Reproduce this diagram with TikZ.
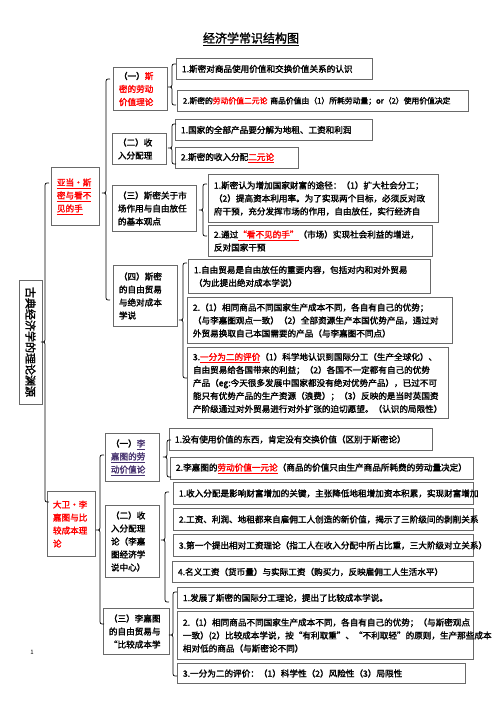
\documentclass[tikz,border=0pt]{standalone}
\usepackage{fontspec}
\setmainfont{Noto Sans CJK SC}[AutoFakeBold=1.8]
\definecolor{boxgray}{RGB}{105,105,105}
\definecolor{darkpu}{RGB}{70,50,110}
\newcommand\ru[1]{\textcolor{red}{\underline{#1}}}
\newcommand\pu[1]{\textcolor{darkpu}{\underline{#1}}}
\newcommand\rd[1]{\textcolor{red}{#1}}
\newcommand\mkbox[6]{%
  \pgfmathsetmacro\mkW{#4-#2}%
  \pgfmathsetmacro\mkH{#5-#3}%
  \pgfmathsetmacro\mkT{#4-#2-11}%
  \node[boxnode, minimum width=\mkW pt, minimum height=\mkH pt, text width=\mkT pt] (#1) at (#2,#3) {#6};}
\newcommand\mybrace[4]{%
  \draw[braceline] ({#1+4},{#2}) .. controls ({#1},{#2}) .. ({#1},{#2+5}) -- ({#1},{#3-5}) .. controls ({#1},{#3}) .. ({#1-4},{#3}) .. controls ({#1},{#3}) .. ({#1},{#3+5}) -- ({#1},{#4-5}) .. controls ({#1},{#4}) .. ({#1+4},{#4});}
\begin{document}
\begin{tikzpicture}[x=1pt,y=-1pt,
  boxnode/.style={draw=boxgray, line width=0.9pt, inner sep=0pt, anchor=north west, align=left,
    font=\fontsize{8.6}{13}\selectfont\bfseries},
  braceline/.style={draw=black, line width=0.7pt}]
\useasboundingbox (0,0) rectangle (500,707);
\fill[white] (0,0) rectangle (500,707);

% title
\node[font=\fontsize{12}{14}\selectfont\bfseries] (title) at (251,39) {\underline{经济学常识结构图}};
\node[font=\fontsize{6}{7}\selectfont] (pagenum) at (32,652) {1};

% root
\node[draw=boxgray, line width=0.9pt, inner sep=0pt, rotate=-90, minimum width=124pt, minimum height=23pt,
  font=\fontsize{11}{12}\selectfont\bfseries] (root) at (30.5,342) {古典经济学的理论渊源};

% level 1
\mkbox{smith}{51}{167}{99}{225}{\ru{亚当·斯}\\\ru{密与看不}\\\ru{见的手}}
\mkbox{ricardo}{47}{491}{95}{556}{\rd{大卫·李}\\\rd{嘉图与比}\\\rd{较成本理}\\\rd{论}}

% level 2 (Smith)
\mkbox{s1}{113}{67}{167}{110}{（一）\rd{斯}\\\rd{密的劳动}\\\rd{价值理论}}
\mkbox{s2}{112}{133}{166}{164}{（二）收\\入分配理}
\mkbox{s3}{112}{185}{196}{231}{（三）斯密关于市\\场作用与自由放任\\的基本观点}
\mkbox{s4}{113}{265}{177}{326}{（四）斯密\\的自由贸易\\与绝对成本\\学说}

% level 2 (Ricardo)
\mkbox{r1}{105}{433}{159}{481}{（一）\pu{李}\\\pu{嘉图的劳}\\\pu{动价值论}}
\mkbox{r2}{105}{505}{159}{577}{（二）收\\入分配理\\论（李嘉\\图经济学\\说中心）}
\mkbox{r3}{103}{608}{169}{654}{（三）李嘉图\\的自由贸易与\\“比较成本学}

% leaves Smith
\mkbox{s11}{176}{58}{372}{79}{1.斯密对商品使用价值和交换价值关系的认识}
\mkbox{s12}{177}{90}{468}{111}{\fontsize{7.8}{13}\selectfont 2.斯密的\rd{劳动价值二元论} 商品价值由（1）所耗劳动量；or（2）使用价值决定}
\mkbox{s21}{175}{119}{372}{140}{1.国家的全部产品要分解为地租、工资和利润}
\mkbox{s22}{175}{147}{298}{168}{2.斯密的收入分配\ru{二元论}}
\mkbox{s31}{208}{174}{438}{222}{1.斯密认为增加国家财富的途径：（1）扩大社会分工；\\（2）提高资本利用率。为了实现两个目标，必须反对政\\府干预，充分发挥市场的作用，自由放任，实行经济自}
\mkbox{s32}{208}{225}{432}{256}{2.通过\ru{“看不见的手”}（市场）实现社会利益的增进，\\反对国家干预}
\mkbox{s41}{188}{259}{430}{293}{1.自由贸易是自由放任的重要内容，包括对内和对外贸易\\（为此提出绝对成本学说）}
\mkbox{s42}{187}{297}{452}{343}{2.（1）相同商品不同国家生产成本不同，各自有自己的优势；\\（与李嘉图观点一致）（2）全部资源生产本国优势产品，通过对\\外贸易换取自己本国需要的产品（与李嘉图不同点）}
\mkbox{s43}{187}{347}{448}{418}{3.\ru{一分为二的评价}（1）科学地认识到国际分工（生产全球化）、\\自由贸易给各国带来的利益；（2）各国不一定都有自己的优势\\产品（eg:今天很多发展中国家都没有绝对优势产品），已过不可\\能只有优势产品的生产资源（浪费）；（3）反映的是当时英国资\\产阶级通过对外贸易进行对外扩张的迫切愿望。（认识的局限性）}

% leaves Ricardo
\mkbox{r11}{169}{428}{432}{450}{1.没有使用价值的东西，肯定没有交换价值（区别于斯密论）}
\mkbox{r12}{170}{457}{473}{479}{2.李嘉图的\ru{劳动价值一元论}（商品的价值只由生产商品所耗费的劳动量决定）}
\mkbox{r21}{173}{482}{473}{504}{1.收入分配是影响财富增加的关键，主张降低地租增加资本积累，实现财富增加}
\mkbox{r22}{173}{508}{473}{530}{2.工资、利润、地租都来自雇佣工人创造的新价值，揭示了三阶级间的剥削关系}
\mkbox{r23}{173}{534}{473}{556}{3.第一个提出相对工资理论（指工人在收入分配中所占比重，三大阶级对立关系）}
\mkbox{r24}{172}{561}{473}{582}{4.名义工资（货币量）与实际工资（购买力，反映雇佣工人生活水平）}
\mkbox{r31}{177}{587}{473}{608}{1.发展了斯密的国际分工理论，提出了比较成本学说。}
\mkbox{r32}{177}{611}{473}{659}{2.（1）相同商品不同国家生产成本不同，各自有自己的优势；（与斯密观点\\一致）(2）比较成本学说，按“有利取重”、“不利取轻”的原则，生产那些成本\\相对低的商品（与斯密论不同）}
\mkbox{r33}{177}{663}{465}{683}{3.一分为二的评价：（1）科学性（2）风险性（3）局限性}

% braces
\mybrace{45}{183}{342}{502}
\mybrace{106}{79}{193}{300}
\mybrace{172}{64}{87}{105}
\mybrace{172}{124}{148}{164}
\mybrace{203}{184}{210}{236}
\mybrace{183}{263}{320}{378}
\mybrace{100}{455}{530}{624}
\mybrace{167}{440}{457}{477}
\mybrace{165}{492}{540}{602}
\mybrace{173}{592}{635}{676}
\end{tikzpicture}
\end{document}
